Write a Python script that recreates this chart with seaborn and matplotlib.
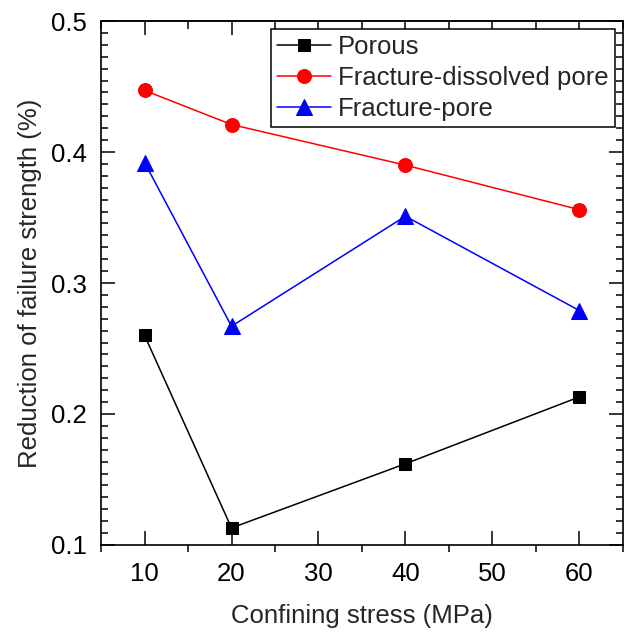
import matplotlib
matplotlib.use("Agg")
import matplotlib.pyplot as plt
import seaborn as sns
import pandas as pd
from matplotlib.ticker import MultipleLocator, AutoMinorLocator

stress = [10, 20, 40, 60]
porous = [0.260, 0.113, 0.162, 0.213]
fracture_dissolved = [0.447, 0.421, 0.390, 0.356]
fracture_pore = [0.392, 0.267, 0.351, 0.279]

series = [
    ("Porous", porous, "black", "s", 9),
    ("Fracture-dissolved pore", fracture_dissolved, "red", "o", 10),
    ("Fracture-pore", fracture_pore, "blue", "^", 11),
]

sns.set_theme(style="ticks")
plt.rcParams["font.family"] = ["Liberation Sans", "DejaVu Sans"]
FS = 18.5
plt.rcParams["font.size"] = FS

fig = plt.figure(figsize=(6.24, 6.32), dpi=100)
ax = fig.add_axes([0.162, 0.1377, 0.836, 0.829])

for name, vals, color, marker, ms in series:
    df = pd.DataFrame({"x": stress, "y": vals})
    sns.lineplot(data=df, x="x", y="y", ax=ax, color=color, marker=marker,
                 markersize=ms, markeredgecolor=color, linewidth=1.1, label=name)

ax.set_xlim(5, 65)
ax.set_ylim(0.1, 0.5)
ax.set_xticks([10, 20, 30, 40, 50, 60])
ax.xaxis.set_minor_locator(AutoMinorLocator(2))
ax.yaxis.set_major_locator(MultipleLocator(0.1))
ax.yaxis.set_minor_locator(AutoMinorLocator(11))
ax.tick_params(which="both", colors="black", labelsize=FS, width=1.1)
ax.tick_params(axis="y", which="both", direction="in", left=True, right=True, pad=10)
ax.tick_params(axis="y", which="major", length=10)
ax.tick_params(axis="y", which="minor", length=5)
# bottom axis: major ticks inward, minor ticks outward
ax.tick_params(axis="x", which="major", direction="in", length=10, top=False, pad=12.5)
ax.tick_params(axis="x", which="minor", direction="out", length=5, top=False)

top = ax.secondary_xaxis("top")
top.set_xticks([10, 20, 30, 40, 50, 60])
top.xaxis.set_minor_locator(AutoMinorLocator(2))
top.tick_params(which="both", direction="in", labeltop=False, width=1.1, colors="black")
top.tick_params(which="major", length=10)
top.tick_params(which="minor", length=6)
top.spines["top"].set_linewidth(1.2)

for sp in ax.spines.values():
    sp.set_linewidth(1.2)
    sp.set_color("black")

ax.set_xlabel("Confining stress (MPa)", fontsize=FS, labelpad=13)
ax.set_ylabel("Reduction of failure strength (%)", fontsize=FS, labelpad=6.5)

leg = ax.legend(loc="upper right", fontsize=FS, frameon=True, fancybox=False,
                edgecolor="black", framealpha=1, handlelength=2.1,
                borderaxespad=0.3, borderpad=0.25, labelspacing=0.27,
                handletextpad=0.27)
leg.get_frame().set_linewidth(1.1)

fig.savefig("out.png", dpi=100)
